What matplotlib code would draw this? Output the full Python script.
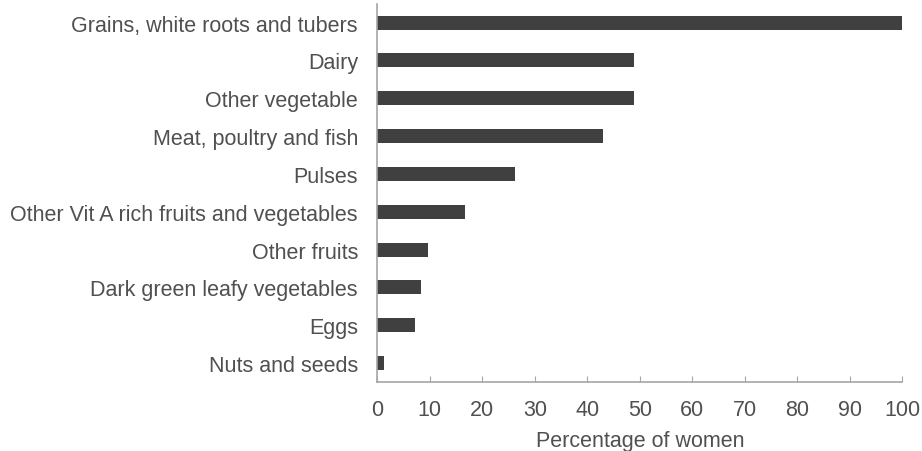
import matplotlib.pyplot as plt

plt.rcParams['font.family'] = ['Liberation Sans', 'DejaVu Sans']

food_groups = ['Grains, white roots and tubers', 'Dairy', 'Other vegetable',
               'Meat, poultry and fish', 'Pulses',
               'Other Vit A rich fruits and vegetables', 'Other fruits',
               'Dark green leafy vegetables', 'Eggs', 'Nuts and seeds']
pct_women = [100, 48.9, 48.9, 42.9, 26.2, 16.7, 9.6, 8.4, 7.2, 1.2]
xticks = list(range(0, 101, 10))

fig = plt.figure(figsize=(9.22, 4.52), dpi=100)
ax = fig.add_axes([0.4093, 0.1527, 0.5693, 0.837])

ypos = list(range(len(food_groups)))
ax.barh(ypos, pct_women, height=0.37, color='#404040')
ax.set_ylim(len(food_groups) - 0.5, -0.5)
ax.set_xlim(0, 100)
ax.set_yticks(ypos)
ax.set_yticklabels(food_groups)
ax.set_xticks(xticks)

for s in ['top', 'right']:
    ax.spines[s].set_visible(False)
for s in ['left', 'bottom']:
    ax.spines[s].set_color('#a6a6a6')
    ax.spines[s].set_linewidth(1.2)

ax.tick_params(axis='y', length=0, pad=14, labelsize=15.5, labelcolor='#505050')
ax.tick_params(axis='x', direction='in', length=4, color='#a6a6a6',
               pad=12.5, labelsize=15.5, labelcolor='#505050')
ax.set_xlabel('Percentage of women', fontsize=15.5, color='#505050', labelpad=7)

fig.savefig('out.png', dpi=100)
